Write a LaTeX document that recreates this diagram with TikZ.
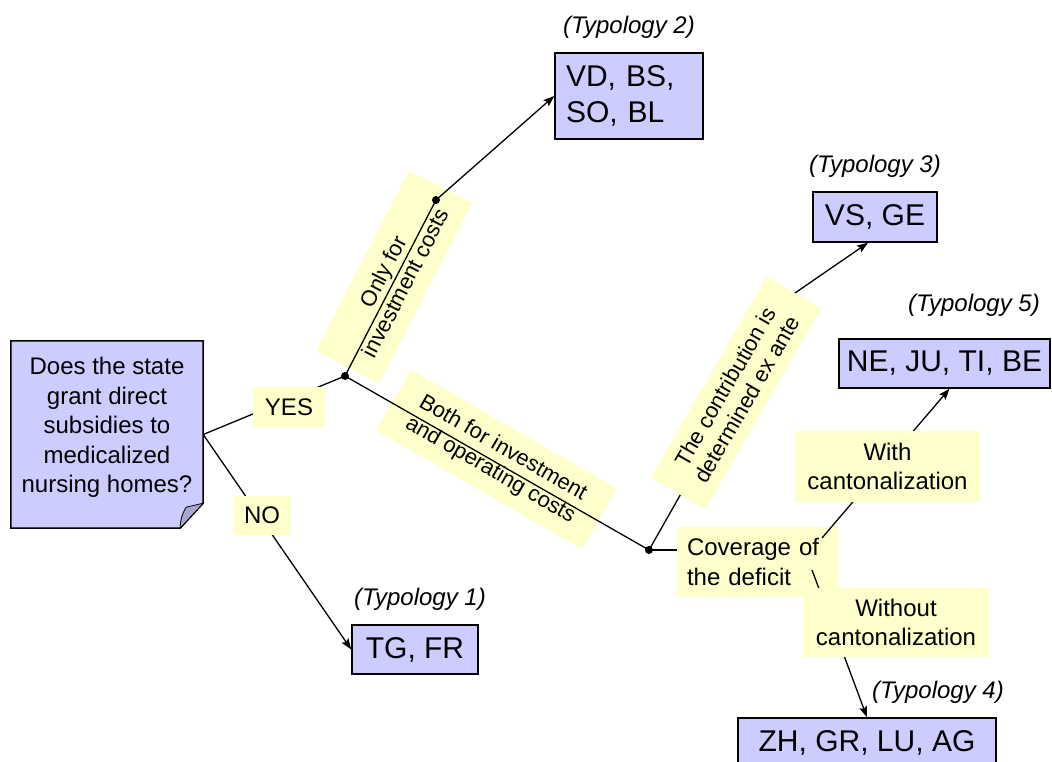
\documentclass[tikz,border=0pt]{standalone}
\usepackage{fontspec}
\setmainfont{Liberation Sans}
\usetikzlibrary{arrows.meta,positioning}
\definecolor{boxblue}{RGB}{204,204,255}
\definecolor{notecol}{RGB}{255,255,204}
\definecolor{foldblue}{RGB}{168,168,208}

\begin{document}
\begin{tikzpicture}[
    x=1pt, y=-1pt,
    every node/.style={inner sep=0pt, align=center},
    canton/.style={draw, line width=1.5pt, fill=boxblue,
        font=\fontsize{30}{36}\selectfont},
    typo/.style={font=\fontsize{24}{29}\selectfont\itshape},
    note/.style={fill=notecol, font=\fontsize{24}{29.5}\selectfont},
    slant/.style={fill=notecol, font=\fontsize{22}{25}\selectfont},
    conn/.style={line width=1.3pt},
    arr/.style={conn, -{Stealth[length=11pt,width=8pt,inset=2pt]}}
]
\useasboundingbox (0,0) rectangle (1052,761);
\clip (0,0) rectangle (1052,761);

% question with folded corner
\node[minimum width=192pt, minimum height=187pt] (question) at (107,434.5) {};
\draw[line width=1.5pt, fill=boxblue] (question.north west) -- (question.north east)
    -- ([yshift=25pt]question.south east) -- ([xshift=-23pt]question.south east)
    -- (question.south west) -- cycle;
\draw[line width=0.8pt, fill=foldblue] ([xshift=-23pt]question.south east)
    to[bend left=15] ([xshift=-17pt,yshift=21pt]question.south east)
    -- ([yshift=25pt]question.south east) -- cycle;
\node[font=\fontsize{24}{29.5}\selectfont] (qtext) at ([yshift=7pt]question.center)
    {Does the state\\grant direct\\subsidies to\\medicalized\\nursing homes?};

% cantons
\node[canton, minimum width=148pt, minimum height=86pt, text width=126pt, align=left]
    (vd) at (629,96) {VD, BS,\\SO, BL};
\node[canton, minimum width=124pt, minimum height=50pt] (vsge) at (875,217) {VS, GE};
\node[canton, minimum width=211pt, minimum height=49pt] (ne) at (944.5,363.5) {NE, JU, TI, BE};
\node[canton, minimum width=126pt, minimum height=49pt] (tgfr) at (415,649.5) {TG, FR};
\node[canton, minimum width=258pt, minimum height=50pt] (zh) at (867,743) {ZH, GR, LU, AG};

\node[typo, above=14pt of tgfr, xshift=5pt] (t1) {(Typology 1)};
\node[typo, above=14pt of vd] (t2) {(Typology 2)};
\node[typo, above=14pt of vsge] (t3) {(Typology 3)};
\node[typo] (t4) at (938,692) {(Typology 4)};
\node[typo] (t5) at (974,305) {(Typology 5)};

\node[note, minimum width=162pt, minimum height=70pt, text width=142pt, align=left]
    (cover) at (758,562) {Coverage of\\the deficit};
\node[slant, rotate=62.7, minimum width=203pt, minimum height=71pt]
    (only) at (394,277) {Only for\\investment costs};
\node[slant, rotate=-30, minimum width=238pt, minimum height=70pt]
    (both) at (496.5,459.5) {Both for investment\\and operating costs};

\coordinate (j1) at (345,376);
\coordinate (j2) at (436,200);
\coordinate (j3) at (649,550);
\coordinate (k3) at (795,293);
\coordinate (c1) at (822,538);
\coordinate (c2) at (812,570);

\draw[conn] (question.east) -- (j1);
\draw[arr] (question.east) -- (tgfr.west);
\draw[conn] (j1) -- (j2);
\draw[arr] (j2) -- (vd.west);
\draw[conn] (j1) -- (j3);
\draw[arr] (j3) -- (k3) -- ([xshift=-7pt]vsge.south);
\draw[conn] (j3) -- (j3 -| cover.west);
\draw[arr] (c1) -- ([xshift=5pt]ne.south);
\draw[arr] (c2) -- (zh.north);

\node[note, minimum width=72pt, minimum height=40pt] (yes) at (289,407) {YES};
\node[note, minimum width=58pt, minimum height=39pt] (no) at (262,515.5) {NO};
\node[slant, rotate=60, minimum width=232pt, minimum height=63pt]
    (contrib) at (736,393) {The contribution is\\determined ex ante};
\node[note, minimum width=185pt, minimum height=71pt] (with) at (887.5,466.5) {With\\cantonalization};
\node[note, minimum width=186pt, minimum height=69pt] (without) at (896,622.5) {Without\\cantonalization};

\foreach \j in {j1,j2,j3}
    \fill (\j) circle (4pt);
\end{tikzpicture}
\end{document}
